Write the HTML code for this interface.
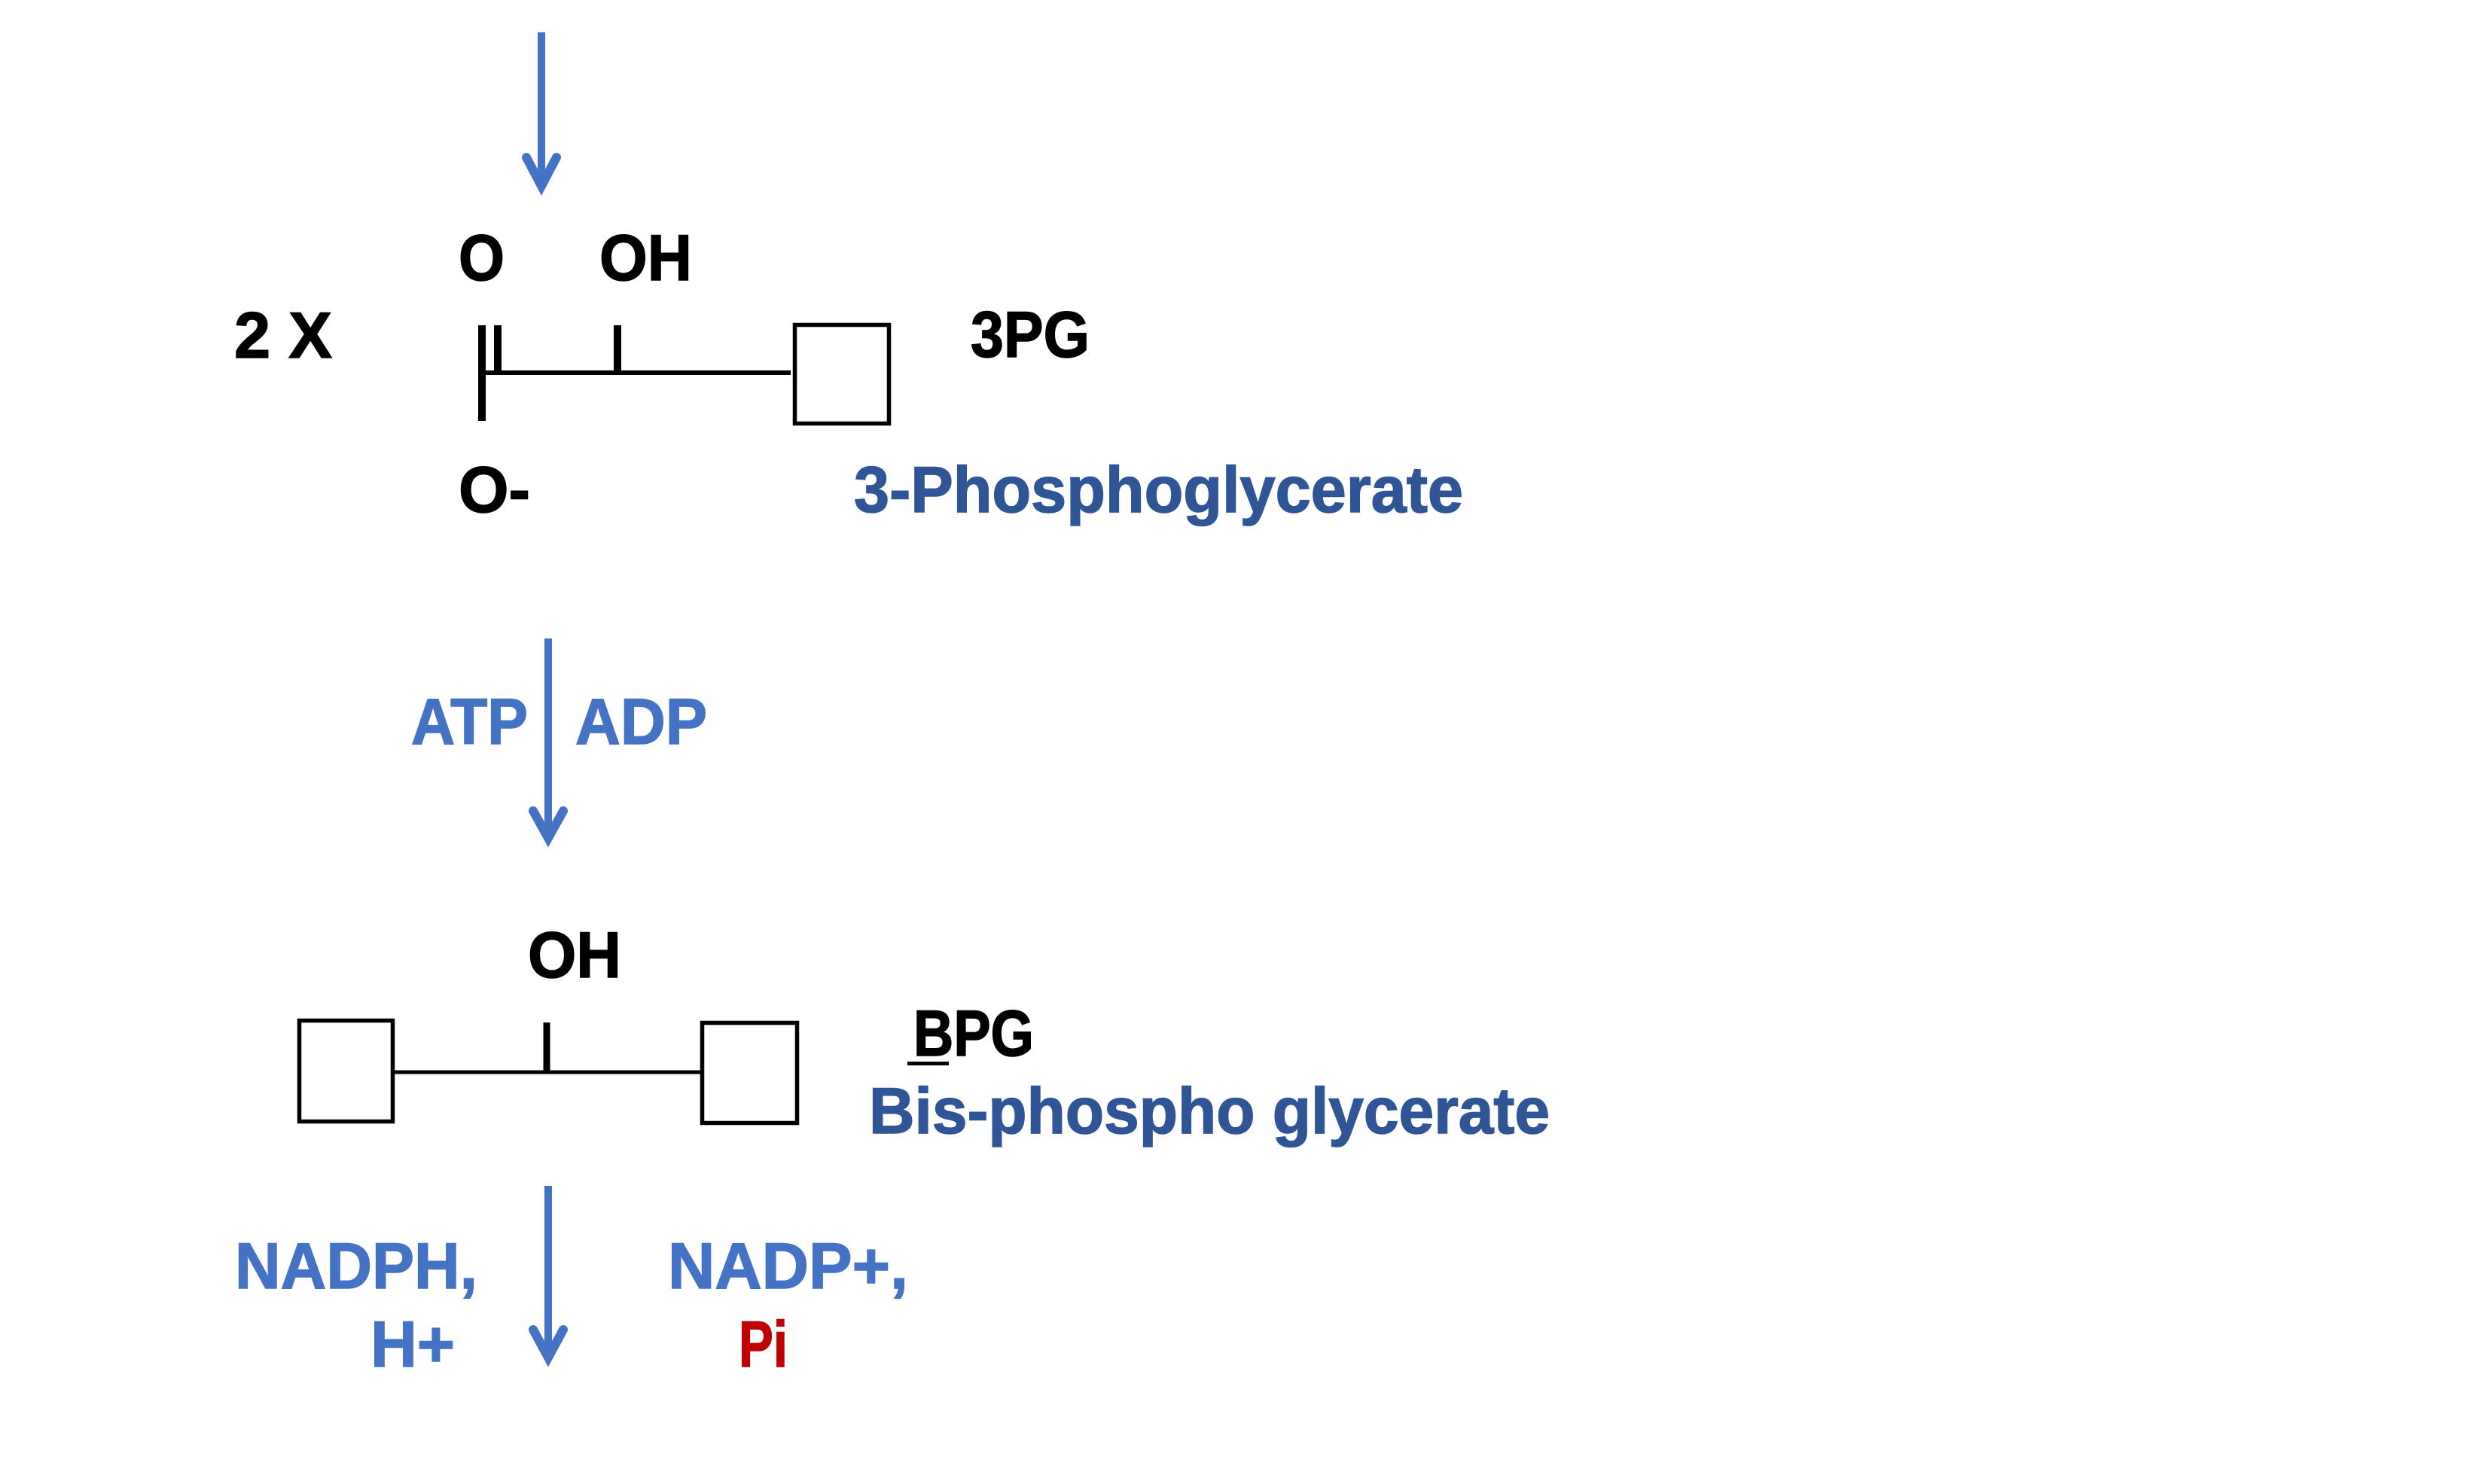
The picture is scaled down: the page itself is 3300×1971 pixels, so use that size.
<!DOCTYPE html>
<html>
<head>
<meta charset="utf-8">
<style>
  html, body { margin: 0; padding: 0; background: #ffffff; }
  body { width: 3300px; height: 1971px; overflow: hidden; }
  svg { display: block; }
  text { font-family: "Liberation Sans", "DejaVu Sans", sans-serif; font-weight: bold; font-size: 86px; stroke-width: 1.5px; }
</style>
</head>
<body>
<svg width="3300" height="1971" viewBox="0 0 3300 1971" xmlns="http://www.w3.org/2000/svg">
  <rect x="0" y="0" width="3300" height="1971" fill="#ffffff"/>

  <!-- Arrows -->
  <g stroke="#4472C4" fill="none" stroke-width="10">
    <line x1="719" y1="43" x2="719" y2="246"/>
    <polyline points="699,209 719,247 739,209" stroke-width="12" stroke-linecap="round" stroke-linejoin="miter"/>

    <line x1="728" y1="848" x2="728" y2="1112"/>
    <polyline points="708,1077 728,1113 748,1077" stroke-width="12" stroke-linecap="round" stroke-linejoin="miter"/>

    <line x1="728" y1="1575" x2="728" y2="1802"/>
    <polyline points="708,1766 728,1803 748,1766" stroke-width="12" stroke-linecap="round" stroke-linejoin="miter"/>
  </g>

  <!-- Structure 1: 3PG -->
  <g stroke="#000000" fill="none">
    <line x1="640" y1="432" x2="640" y2="559" stroke-width="10"/>
    <line x1="661" y1="432" x2="661" y2="495" stroke-width="10"/>
    <line x1="640" y1="495" x2="1050" y2="495" stroke-width="6"/>
    <line x1="820" y1="432" x2="820" y2="495" stroke-width="10"/>
    <rect x="1055.5" y="431.5" width="125" height="131" stroke-width="5.5"/>
  </g>

  <!-- Structure 2: BPG -->
  <g stroke="#000000" fill="none">
    <rect x="397.5" y="1355.5" width="124" height="134" stroke-width="5.5"/>
    <rect x="932.5" y="1358.5" width="126" height="133" stroke-width="5.5"/>
    <line x1="524" y1="1424" x2="930" y2="1424" stroke-width="5"/>
    <line x1="726" y1="1358" x2="726" y2="1424" stroke-width="9"/>
  </g>

  <!-- Black labels -->
  <g fill="#000000" stroke="#000000">
    <text x="609" y="372" textLength="61" lengthAdjust="spacingAndGlyphs">O</text>
    <text x="796" y="372" textLength="123" lengthAdjust="spacingAndGlyphs">OH</text>
    <text x="311" y="475" textLength="130" lengthAdjust="spacingAndGlyphs">2 X</text>
    <text x="1289" y="474" textLength="158" lengthAdjust="spacingAndGlyphs">3PG</text>
    <text x="609" y="680" textLength="95" lengthAdjust="spacingAndGlyphs">O-</text>
    <text x="701" y="1298" textLength="124" lengthAdjust="spacingAndGlyphs">OH</text>
    <text x="1213" y="1402" textLength="160" lengthAdjust="spacingAndGlyphs">BPG</text>
  </g>
  <rect x="1205" y="1410" width="55" height="5" fill="#000000"/>

  <!-- Dark blue names -->
  <g fill="#2F5597" stroke="#2F5597">
    <text x="1134" y="680" textLength="809" lengthAdjust="spacingAndGlyphs">3-Phosphoglycerate</text>
    <text x="1154" y="1505" textLength="904" lengthAdjust="spacingAndGlyphs">Bis-phospho glycerate</text>
  </g>

  <!-- Light blue cofactors -->
  <g fill="#4472C4" stroke="#4472C4">
    <text x="546" y="988" textLength="155" lengthAdjust="spacingAndGlyphs">ATP</text>
    <text x="764" y="988" textLength="175" lengthAdjust="spacingAndGlyphs">ADP</text>
    <text x="312" y="1711" textLength="322" lengthAdjust="spacingAndGlyphs">NADPH,</text>
    <text x="492" y="1815" textLength="112" lengthAdjust="spacingAndGlyphs">H+</text>
    <text x="887" y="1711" textLength="319" lengthAdjust="spacingAndGlyphs">NADP+,</text>
  </g>

  <!-- Red -->
  <text x="981" y="1815" fill="#C00000" stroke="#C00000" textLength="65" lengthAdjust="spacingAndGlyphs">Pi</text>
</svg>
</body>
</html>
